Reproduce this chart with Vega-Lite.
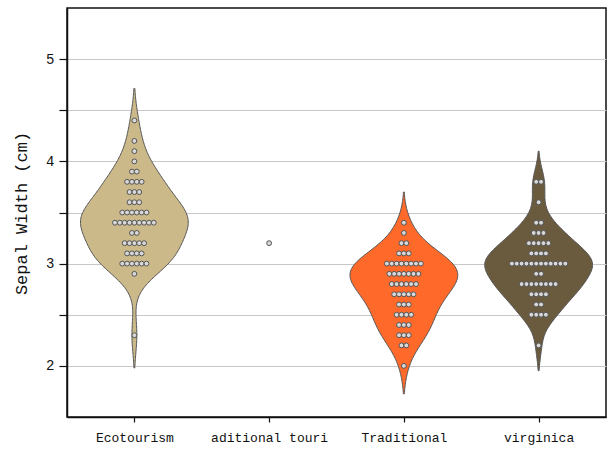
{
  "$schema": "https://vega.github.io/schema/vega-lite/v6.json",
  "width": 539,
  "height": 409,
  "autosize": {"type": "none"},
  "padding": {"left": 67, "top": 8, "right": 2, "bottom": 33},
  "background": "white",
  "config": {
    "view": {"stroke": "#111", "strokeWidth": 1.5},
    "axis": {"labelFont": "Liberation Mono", "titleFont": "Liberation Mono", "labelColor": "#111", "titleColor": "#111", "domainColor": "#111", "tickColor": "#111", "domainWidth": 1.5, "tickWidth": 1.2, "titleFontWeight": "normal"}
  },
  "data": {"values": [
    {"species":"Ecotourism","sepal_width":3.5},{"species":"Ecotourism","sepal_width":3.0},{"species":"Ecotourism","sepal_width":3.2},{"species":"Ecotourism","sepal_width":3.1},{"species":"Ecotourism","sepal_width":3.6},
    {"species":"Ecotourism","sepal_width":3.9},{"species":"Ecotourism","sepal_width":3.4},{"species":"Ecotourism","sepal_width":3.4},{"species":"Ecotourism","sepal_width":2.9},{"species":"Ecotourism","sepal_width":3.1},
    {"species":"Ecotourism","sepal_width":3.7},{"species":"Ecotourism","sepal_width":3.4},{"species":"Ecotourism","sepal_width":3.0},{"species":"Ecotourism","sepal_width":3.0},{"species":"Ecotourism","sepal_width":4.0},
    {"species":"Ecotourism","sepal_width":4.4},{"species":"Ecotourism","sepal_width":3.9},{"species":"Ecotourism","sepal_width":3.5},{"species":"Ecotourism","sepal_width":3.8},{"species":"Ecotourism","sepal_width":3.8},
    {"species":"Ecotourism","sepal_width":3.4},{"species":"Ecotourism","sepal_width":3.7},{"species":"Ecotourism","sepal_width":3.6},{"species":"Ecotourism","sepal_width":3.3},{"species":"Ecotourism","sepal_width":3.4},
    {"species":"Ecotourism","sepal_width":3.0},{"species":"Ecotourism","sepal_width":3.4},{"species":"Ecotourism","sepal_width":3.5},{"species":"Ecotourism","sepal_width":3.4},{"species":"Ecotourism","sepal_width":3.2},
    {"species":"Ecotourism","sepal_width":3.1},{"species":"Ecotourism","sepal_width":3.4},{"species":"Ecotourism","sepal_width":4.1},{"species":"Ecotourism","sepal_width":4.2},{"species":"Ecotourism","sepal_width":3.1},
    {"species":"Ecotourism","sepal_width":3.2},{"species":"Ecotourism","sepal_width":3.5},{"species":"Ecotourism","sepal_width":3.6},{"species":"Ecotourism","sepal_width":3.0},{"species":"Ecotourism","sepal_width":3.4},
    {"species":"Ecotourism","sepal_width":3.5},{"species":"Ecotourism","sepal_width":2.3},{"species":"Ecotourism","sepal_width":3.2},{"species":"Ecotourism","sepal_width":3.5},{"species":"Ecotourism","sepal_width":3.8},
    {"species":"Ecotourism","sepal_width":3.0},{"species":"Ecotourism","sepal_width":3.8},{"species":"Ecotourism","sepal_width":3.2},{"species":"Ecotourism","sepal_width":3.7},{"species":"Ecotourism","sepal_width":3.3},
    {"species":"aditional touri","sepal_width":3.2},
    {"species":"Traditional","sepal_width":3.2},{"species":"Traditional","sepal_width":3.1},{"species":"Traditional","sepal_width":2.3},{"species":"Traditional","sepal_width":2.8},{"species":"Traditional","sepal_width":2.8},
    {"species":"Traditional","sepal_width":3.3},{"species":"Traditional","sepal_width":2.4},{"species":"Traditional","sepal_width":2.9},{"species":"Traditional","sepal_width":2.7},{"species":"Traditional","sepal_width":2.0},
    {"species":"Traditional","sepal_width":3.0},{"species":"Traditional","sepal_width":2.2},{"species":"Traditional","sepal_width":2.9},{"species":"Traditional","sepal_width":2.9},{"species":"Traditional","sepal_width":3.1},
    {"species":"Traditional","sepal_width":3.0},{"species":"Traditional","sepal_width":2.7},{"species":"Traditional","sepal_width":2.2},{"species":"Traditional","sepal_width":2.5},{"species":"Traditional","sepal_width":3.2},
    {"species":"Traditional","sepal_width":2.8},{"species":"Traditional","sepal_width":2.5},{"species":"Traditional","sepal_width":2.8},{"species":"Traditional","sepal_width":2.9},{"species":"Traditional","sepal_width":3.0},
    {"species":"Traditional","sepal_width":2.8},{"species":"Traditional","sepal_width":3.0},{"species":"Traditional","sepal_width":2.9},{"species":"Traditional","sepal_width":2.6},{"species":"Traditional","sepal_width":2.4},
    {"species":"Traditional","sepal_width":2.4},{"species":"Traditional","sepal_width":2.7},{"species":"Traditional","sepal_width":2.7},{"species":"Traditional","sepal_width":3.0},{"species":"Traditional","sepal_width":3.4},
    {"species":"Traditional","sepal_width":3.1},{"species":"Traditional","sepal_width":2.3},{"species":"Traditional","sepal_width":3.0},{"species":"Traditional","sepal_width":2.5},{"species":"Traditional","sepal_width":2.6},
    {"species":"Traditional","sepal_width":3.0},{"species":"Traditional","sepal_width":2.6},{"species":"Traditional","sepal_width":2.3},{"species":"Traditional","sepal_width":2.7},{"species":"Traditional","sepal_width":3.0},
    {"species":"Traditional","sepal_width":2.9},{"species":"Traditional","sepal_width":2.9},{"species":"Traditional","sepal_width":2.5},{"species":"Traditional","sepal_width":2.8},
    {"species":"virginica","sepal_width":3.3},{"species":"virginica","sepal_width":2.7},{"species":"virginica","sepal_width":3.0},{"species":"virginica","sepal_width":2.9},{"species":"virginica","sepal_width":3.0},
    {"species":"virginica","sepal_width":3.0},{"species":"virginica","sepal_width":2.5},{"species":"virginica","sepal_width":2.9},{"species":"virginica","sepal_width":2.5},{"species":"virginica","sepal_width":3.6},
    {"species":"virginica","sepal_width":3.2},{"species":"virginica","sepal_width":2.7},{"species":"virginica","sepal_width":3.0},{"species":"virginica","sepal_width":2.5},{"species":"virginica","sepal_width":2.8},
    {"species":"virginica","sepal_width":3.2},{"species":"virginica","sepal_width":3.0},{"species":"virginica","sepal_width":3.8},{"species":"virginica","sepal_width":2.6},{"species":"virginica","sepal_width":2.2},
    {"species":"virginica","sepal_width":3.2},{"species":"virginica","sepal_width":2.8},{"species":"virginica","sepal_width":2.8},{"species":"virginica","sepal_width":2.7},{"species":"virginica","sepal_width":3.3},
    {"species":"virginica","sepal_width":3.2},{"species":"virginica","sepal_width":2.8},{"species":"virginica","sepal_width":3.0},{"species":"virginica","sepal_width":2.8},{"species":"virginica","sepal_width":3.0},
    {"species":"virginica","sepal_width":2.8},{"species":"virginica","sepal_width":3.8},{"species":"virginica","sepal_width":2.8},{"species":"virginica","sepal_width":2.8},{"species":"virginica","sepal_width":2.6},
    {"species":"virginica","sepal_width":3.0},{"species":"virginica","sepal_width":3.4},{"species":"virginica","sepal_width":3.1},{"species":"virginica","sepal_width":3.0},{"species":"virginica","sepal_width":3.1},
    {"species":"virginica","sepal_width":3.1},{"species":"virginica","sepal_width":3.1},{"species":"virginica","sepal_width":2.7},{"species":"virginica","sepal_width":3.2},{"species":"virginica","sepal_width":3.3},
    {"species":"virginica","sepal_width":3.0},{"species":"virginica","sepal_width":2.5},{"species":"virginica","sepal_width":3.0},{"species":"virginica","sepal_width":3.4},{"species":"virginica","sepal_width":3.0}
  ]},
  "transform": [
    {"calculate": "indexof(['Ecotourism','aditional touri','Traditional','virginica'], datum.species)", "as": "idx"}
  ],
  "layer": [
    {
      "transform": [
        {"filter": "datum.species !== 'aditional touri'"},
        {"density": "sepal_width", "groupby": ["species", "idx"], "extent": [1.5, 5.5], "steps": 300},
        {"joinaggregate": [{"op": "max", "field": "density", "as": "maxd"}], "groupby": ["species"]},
        {"filter": "datum.density > datum.maxd * 0.008"},
        {"calculate": "datum.idx - 0.4 * datum.density / datum.maxd", "as": "left"},
        {"calculate": "datum.idx + 0.4 * datum.density / datum.maxd", "as": "right"}
      ],
      "mark": {"type": "area", "orient": "horizontal", "stroke": "#555", "strokeWidth": 1, "opacity": 1, "fillOpacity": 1},
      "encoding": {
        "y": {"field": "value", "type": "quantitative", "scale": {"domain": [1.5, 5.5], "nice": false, "zero": false},
              "axis": {"values": [2, 2.5, 3, 3.5, 4, 4.5, 5], "labelExpr": "datum.value % 1 === 0 ? format(datum.value, 'd') : ''", "grid": true, "gridColor": "#c8c8c8", "gridWidth": 1, "tickSize": 8, "labelPadding": 5, "labelFontSize": 14,
                       "title": "Sepal Width (cm)", "titleFontSize": 17, "titleX": -46, "titleY": 205, "titleAngle": -90, "titleAlign": "center", "titleBaseline": "middle"}},
        "x": {"field": "left", "type": "quantitative", "scale": {"domain": [-0.5, 3.5], "nice": false, "zero": false},
              "axis": {"values": [0, 1, 2, 3], "labelExpr": "['Ecotourism','aditional touri','Traditional','virginica'][datum.value]", "grid": false, "title": null, "tickSize": 5, "labelPadding": 9, "labelFontSize": 13}},
        "x2": {"field": "right"},
        "fill": {"field": "species", "type": "nominal", "legend": null,
                  "scale": {"domain": ["Ecotourism", "aditional touri", "Traditional", "virginica"], "range": ["#cbb98a", "#999999", "#ff6a2b", "#6a5b3f"]}}
      }
    },
    {
      "transform": [
        {"window": [{"op": "row_number", "as": "rk"}], "groupby": ["species", "sepal_width"]},
        {"joinaggregate": [{"op": "count", "as": "cnt"}], "groupby": ["species", "sepal_width"]},
        {"calculate": "datum.idx + (datum.rk - (datum.cnt + 1) / 2) * 0.036", "as": "px"}
      ],
      "mark": {"type": "circle", "size": 24, "fill": "#d8d8d8", "stroke": "#555", "strokeWidth": 1, "opacity": 1},
      "encoding": {
        "x": {"field": "px", "type": "quantitative"},
        "y": {"field": "sepal_width", "type": "quantitative"}
      }
    }
  ]
}
